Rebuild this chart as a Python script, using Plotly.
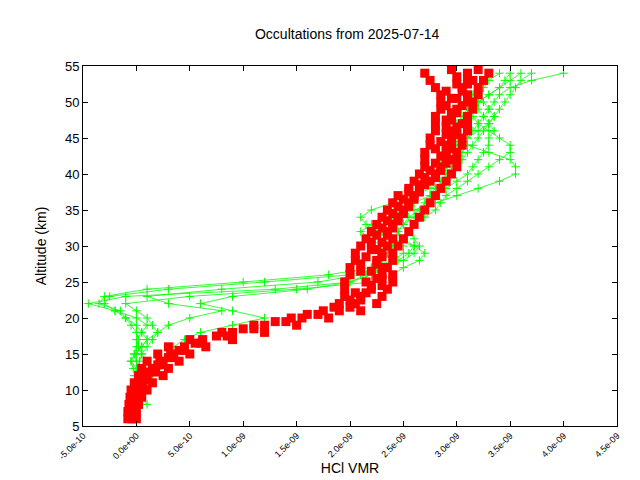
import plotly.graph_objects as go

SCALE = 1e-9
green_alt = list(range(8, 55))
green_profiles = [
    [0.0,-0.02,-0.03,-0.02,0.0,0.02,0.0,-0.02,0.0,0.02,0.0,-0.05,
     -0.1,-0.2,-0.45,-0.1,1.3,2.0,2.2,2.35,2.45,2.55,2.6,
     2.5,2.45,2.5,2.55,2.65,2.7,2.75,2.8,2.85,2.9,
     2.95,3.0,3.05,3.1,3.1,3.15,3.2,3.25,3.3,3.35,3.4,3.5,3.7,4.0],
    [0.05,0.03,0.02,0.0,-0.02,0.0,0.03,0.05,0.02,0.0,0.05,0.1,
     0.0,-0.2,-0.3,-0.25,0.3,1.2,2.0,2.3,2.5,2.6,2.65,
     2.6,2.55,2.6,2.7,2.8,2.85,2.9,3.0,3.1,3.2,
     3.3,3.4,3.5,3.5,3.4,3.3,3.2,3.15,3.1,3.1,3.15,3.2,3.25,3.3],
    [0.1,0.05,0.02,0.05,0.1,0.15,0.1,0.05,0.1,0.15,0.2,0.15,
     0.1,0.0,-0.1,0.5,1.5,2.2,2.4,2.5,2.65,2.7,2.6,
     2.4,2.3,2.25,2.3,2.45,2.6,2.75,2.9,3.0,3.1,
     3.15,3.2,3.25,3.3,3.3,3.35,3.3,3.25,3.2,3.2,3.3,3.4,3.5,3.6],
    [-0.05,-0.02,0.0,0.02,0.0,-0.03,-0.05,0.0,0.05,0.1,0.2,0.3,
     0.5,0.8,0.3,0.1,0.8,1.7,2.1,2.25,2.3,2.4,2.3,
     2.2,2.1,2.2,2.4,2.6,2.8,3.0,3.2,3.4,3.55,
     3.55,3.5,3.3,3.1,3.0,2.95,3.0,3.05,3.1,3.2,3.3,3.4,3.45,3.5],
    [0.0,0.0,0.05,0.1,0.15,0.2,0.25,0.3,0.35,0.45,0.6,0.9,
     1.2,0.9,0.6,0.9,1.6,2.0,2.15,2.2,2.3,2.35,2.4,
     2.4,2.45,2.5,2.6,2.7,2.75,2.8,2.85,2.9,2.95,
     3.0,3.05,3.1,3.15,3.2,3.25,3.3,3.35,3.4,3.45,3.5,3.55,3.6,3.7],
    [0.05,0.0,-0.05,0.0,0.05,0.0,-0.05,-0.02,0.05,0.1,0.05,0.0,
     -0.1,-0.15,-0.35,-0.3,0.1,1.0,1.8,2.2,2.4,2.5,2.5,
     2.4,2.25,2.15,2.1,2.2,2.4,2.6,2.75,2.9,2.95,
     2.9,2.85,2.9,3.0,3.1,3.2,3.3,3.35,3.3,3.25,3.2,3.25,3.3,3.4],
]

red_alt_int = list(range(6, 55))
red_alt_half = [a + 0.5 for a in range(6, 55)]
red_profiles_int = [
    [-0.08,-0.08,-0.07,-0.06,-0.05,-0.02,0.02,0.05,0.1,0.2,0.3,0.5,0.8,1.1,1.45,1.75,1.9,1.95,1.95,1.95,2.0,2.0,2.05,2.05,2.1,2.15,2.2,2.25,2.3,2.35,2.4,2.45,2.55,2.6,2.65,2.7,2.7,2.7,2.75,2.75,2.8,2.8,2.8,2.85,2.85,2.85,2.8,2.75,2.7],
    [0.0,0.0,0.02,0.05,0.1,0.15,0.25,0.3,0.4,0.5,0.65,0.9,1.2,1.5,1.8,2.1,2.25,2.3,2.35,2.4,2.4,2.35,2.4,2.4,2.45,2.5,2.55,2.6,2.65,2.7,2.75,2.8,2.85,2.9,2.95,3.0,3.0,3.0,3.05,3.05,3.1,3.1,3.1,3.15,3.15,3.2,3.2,3.25,3.3],
    [-0.04,-0.05,-0.03,-0.02,0.0,0.05,0.1,0.15,0.22,0.32,0.45,0.62,0.9,1.2,1.55,1.9,2.05,2.1,2.2,2.15,2.3,2.3,2.25,2.3,2.35,2.4,2.35,2.4,2.45,2.5,2.55,2.6,2.65,2.75,2.8,2.85,2.95,2.9,2.9,2.95,2.95,3.05,2.95,3.0,3.1,3.1,3.05,3.15,3.1],
]
red_profiles_half = [
    [-0.05,-0.03,-0.04,0.0,0.02,0.08,0.12,0.2,0.3,0.4,0.6,0.85,1.1,1.4,1.7,2.0,2.1,2.15,2.2,2.25,2.2,2.25,2.3,2.25,2.3,2.35,2.4,2.45,2.5,2.55,2.6,2.65,2.7,2.8,2.85,2.9,2.9,2.95,2.95,3.0,3.0,2.95,3.0,3.05,3.0,3.05,3.1,3.0,2.95],
    [-0.02,-0.06,0.0,0.03,0.06,0.1,0.18,0.25,0.35,0.45,0.55,0.75,1.0,1.3,1.6,1.85,2.0,2.05,2.3,2.3,2.1,2.1,2.15,2.2,2.2,2.25,2.3,2.35,2.4,2.45,2.5,2.55,2.65,2.7,2.75,2.8,2.85,2.8,2.85,2.9,2.9,2.9,2.95,2.9,2.95,2.9,3.0,3.1,3.2],
]

x_ticks = [-5e-10, 0, 5e-10, 1e-9, 1.5e-9, 2e-9, 2.5e-9, 3e-9, 3.5e-9, 4e-9, 4.5e-9]
x_ticklabels = ["-5.0e-10","0.0e+00","5.0e-10","1.0e-09","1.5e-09","2.0e-09",
                "2.5e-09","3.0e-09","3.5e-09","4.0e-09","4.5e-09"]
y_ticks = [5,10,15,20,25,30,35,40,45,50,55]

fig = go.Figure()
for prof in green_profiles:
    fig.add_trace(go.Scatter(
        x=[v * SCALE for v in prof], y=green_alt, mode="lines+markers",
        line=dict(color="#00ff00", width=0.8),
        marker=dict(symbol="cross-thin", size=6, line=dict(color="#00ff00", width=1)),
        showlegend=False))
for prof in red_profiles_int:
    fig.add_trace(go.Scatter(x=[v * SCALE for v in prof], y=red_alt_int, mode="markers",
        marker=dict(symbol="square", size=9, color="#ff0000"), showlegend=False))
for prof in red_profiles_half:
    fig.add_trace(go.Scatter(x=[v * SCALE for v in prof], y=red_alt_half, mode="markers",
        marker=dict(symbol="square", size=9, color="#ff0000"), showlegend=False))

axis_common = dict(showline=True, mirror="allticks", linecolor="black", linewidth=1,
                   ticks="inside", ticklen=5, tickcolor="black", showgrid=False,
                   zeroline=False, automargin=False)
fig.update_layout(
    width=640, height=480,
    paper_bgcolor="white", plot_bgcolor="white",
    font=dict(family="Liberation Sans, Arial", color="black"),
    margin=dict(l=75, r=31, t=58, b=62),
    title=dict(text="Occultations from 2025-07-14", x=0.53, y=0.955,
               xanchor="center", font=dict(size=14), automargin=False),
    xaxis=dict(range=[-5e-10, 4.5e-9], tickvals=x_ticks, ticktext=x_ticklabels,
               tickangle=-45, tickfont=dict(size=9, color="black"),
               title=dict(text="HCl VMR", font=dict(size=14), standoff=2),
               **axis_common),
    yaxis=dict(range=[5, 55], tickvals=y_ticks, tickfont=dict(size=13, color="black"),
               title=dict(text="Altitude (km)", font=dict(size=14)), **axis_common),
)
fig.write_html("out.html")
